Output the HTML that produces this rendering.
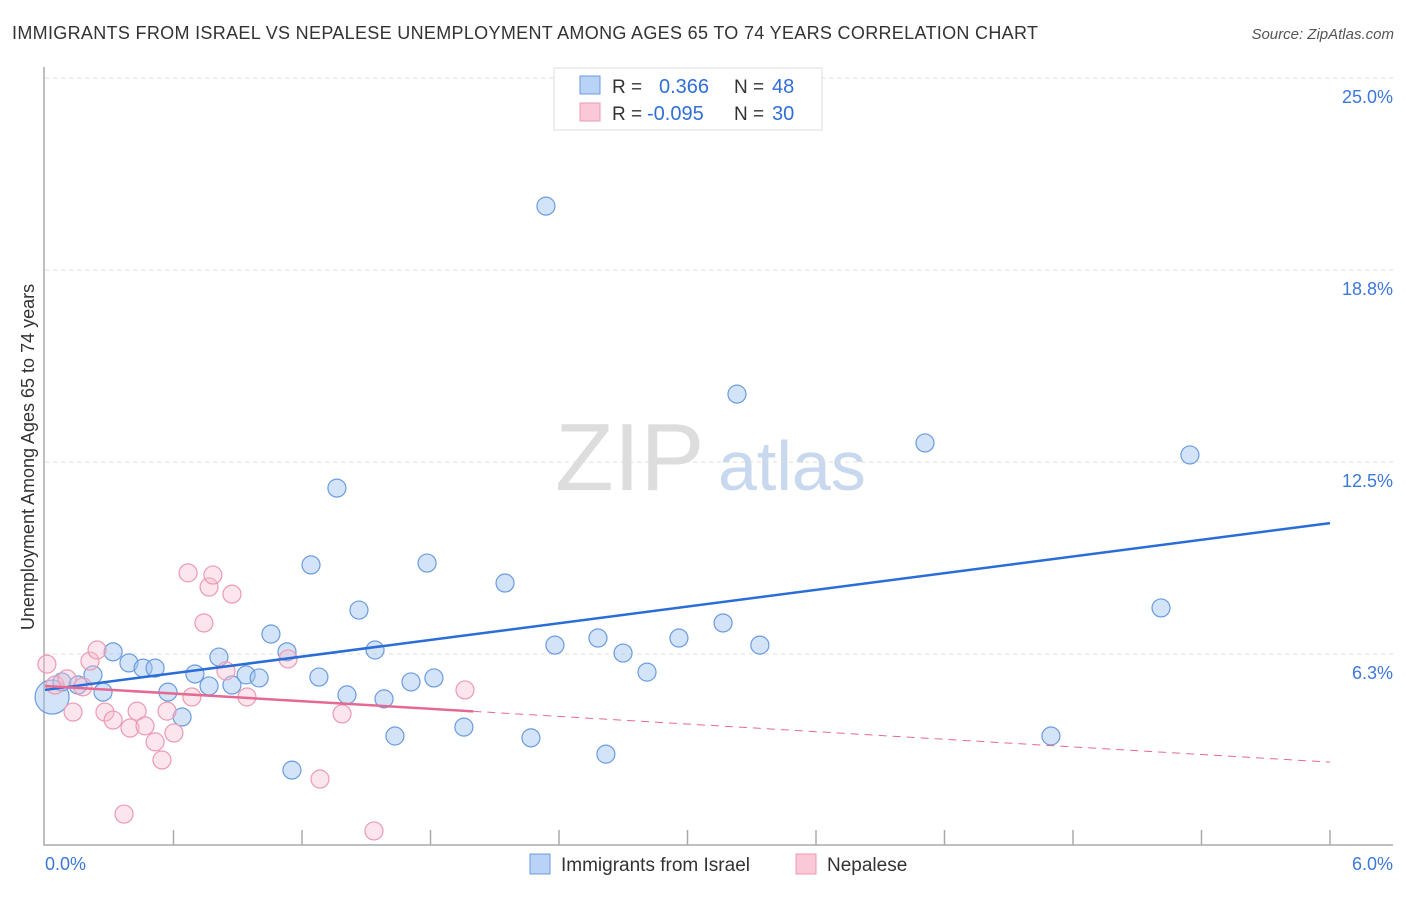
<!DOCTYPE html>
<html><head><meta charset="utf-8"><style>
body{margin:0;background:#fff;font-family:"Liberation Sans",sans-serif}
svg text{font-family:"Liberation Sans",sans-serif}
</style></head><body>
<svg width="1406" height="892" id="c">
<text x="12" y="39" font-size="18" fill="#333" textLength="1026">IMMIGRANTS FROM ISRAEL VS NEPALESE UNEMPLOYMENT AMONG AGES 65 TO 74 YEARS CORRELATION CHART</text>
<text x="1394" y="39" font-size="15" fill="#555" font-style="italic" text-anchor="end">Source: ZipAtlas.com</text>
<text x="555" y="490" font-size="96" fill="#ddd" font-family="Liberation Serif">ZIP</text>
<text x="718" y="490" font-size="70" fill="#c8d8ef">atlas</text>
<text transform="translate(34,457) rotate(-90)" font-size="18" fill="#333" text-anchor="middle">Unemployment Among Ages 65 to 74 years</text>
<g id="grid"></g><g id="axes"></g><g id="pts"></g><g id="lines"></g>
<g>
<rect x="554" y="68" width="268" height="62" fill="#fff" stroke="#ddd"/>
<rect x="580" y="76" width="20" height="18" fill="#b8d3f5" stroke="#6a9be0"/>
<rect x="580" y="103" width="20" height="18" fill="#fac8d6" stroke="#ec9ab2"/>
<text x="612" y="93" font-size="19" fill="#333">R = </text><text x="659" y="93" font-size="20" fill="#2f6fd6">0.366</text>
<text x="734" y="93" font-size="19" fill="#333">N = </text><text x="772" y="93" font-size="20" fill="#2f6fd6">48</text>
<text x="612" y="120" font-size="19" fill="#333">R = </text><text x="647" y="120" font-size="20" fill="#2f6fd6">-0.095</text>
<text x="734" y="120" font-size="19" fill="#333">N = </text><text x="772" y="120" font-size="20" fill="#2f6fd6">30</text>
</g>
<g>
<rect x="530" y="854" width="20" height="20" fill="#b8d3f5" stroke="#6a9be0"/>
<text x="561" y="871" font-size="19" fill="#333">Immigrants from Israel</text>
<rect x="796" y="854" width="20" height="20" fill="#fac8d6" stroke="#ec9ab2"/>
<text x="827" y="871" font-size="19" fill="#333">Nepalese</text>
</g>
</svg>
<script>
const yTicks=[6.3,12.5,18.8,25.0];
const yGrid=[6.25,12.5,18.75,25];
const xLabels=["0.0%","6.0%"];
const blueX=[0.033,0.079,0.154,0.224,0.271,0.318,0.392,0.458,0.514,0.574,0.640,0.700,0.766,0.812,0.873,0.939,1.0,1.055,1.13,1.153,1.242,1.279,1.363,1.41,1.466,1.541,1.583,1.634,1.709,1.784,1.816,1.956,2.148,2.269,2.339,2.381,2.582,2.619,2.699,2.811,2.96,3.166,3.231,3.338,4.109,4.697,5.211,5.346];
const blueY=[4.85,5.34,5.24,5.57,5.01,6.32,5.96,5.79,5.79,5.01,4.20,5.60,5.21,6.15,5.24,5.57,5.47,6.90,6.32,2.47,9.15,5.50,11.65,4.92,7.68,6.38,4.79,3.58,5.34,9.21,5.47,3.87,8.56,3.52,20.83,6.54,6.77,2.99,6.28,5.66,6.77,7.26,14.71,6.54,13.12,3.58,7.75,12.73];
const pinkX=[0.009,0.047,0.103,0.131,0.177,0.21,0.243,0.28,0.318,0.397,0.43,0.467,0.514,0.546,0.57,0.602,0.668,0.686,0.742,0.766,0.784,0.845,0.873,0.943,1.135,1.284,1.387,1.536,0.369,1.961];
const pinkY=[5.92,5.24,5.44,4.36,5.18,6.02,6.38,4.36,4.10,3.84,4.39,3.91,3.39,2.80,4.39,3.68,8.89,4.85,7.26,8.43,8.82,5.70,8.20,4.85,6.09,2.18,4.30,0.49,1.04,5.08];
const blueTrend=[5.08,10.51];
const pinkTrend=[5.21,2.73];
const pinkSolidEnd=2.0;
const X=v=>45+v/6*1285, Y=v=>846-v*30.72;
const NS="http://www.w3.org/2000/svg";
function mk(t,a,p){const e=document.createElementNS(NS,t);for(const k in a)e.setAttribute(k,a[k]);document.getElementById(p).appendChild(e);return e;}
yGrid.forEach((g,i)=>{const l=mk('line',{x1:45,x2:1393,y1:Y(g),y2:Y(g),stroke:'#ddd','stroke-dasharray':'4,4'},'grid');


const t=mk('text',{x:1393,y:Y(g)+25,'font-size':18,fill:'#3b78d8','text-anchor':'end'},'grid');t.textContent=yTicks[i].toFixed(1)+'%';

});
const ax=mk('path',{d:'M44,67V845H1393',fill:'none',stroke:'#aaa','stroke-width':1.5},'axes');


for(let i=1;i<=10;i++){const tk=mk('line',{x1:X(i*0.6),x2:X(i*0.6),y1:830,y2:845,stroke:'#aaa','stroke-width':1.5},'axes');

}
[[0,45,'start'],[6,1393,'end']].forEach((d,i)=>{const t=mk('text',{x:d[1],y:870,'font-size':18,fill:'#3b78d8','text-anchor':d[2]},'axes');t.textContent=xLabels[i];

});
blueX.forEach((x,i)=>{const c=mk('circle',{cx:X(x),cy:Y(blueY[i]),r:i==0?17:9,fill:'rgba(160,196,240,0.45)',stroke:'#6a9be0','stroke-width':1.2},'pts');

});
pinkX.forEach((x,i)=>{const c=mk('circle',{cx:X(x),cy:Y(pinkY[i]),r:9,fill:'rgba(248,190,208,0.4)',stroke:'#ec9ab2','stroke-width':1.2},'pts');

});
const bl=mk('line',{x1:X(0),y1:Y(blueTrend[0]),x2:X(6),y2:Y(blueTrend[1]),stroke:'#2a6dd6','stroke-width':2.5},'lines');


const pm=pinkTrend[0]+(pinkTrend[1]-pinkTrend[0])*pinkSolidEnd/6;
const pl=mk('line',{x1:X(0),y1:Y(pinkTrend[0]),x2:X(pinkSolidEnd),y2:Y(pm),stroke:'#e46a92','stroke-width':2.5},'lines');


const pd=mk('line',{x1:X(pinkSolidEnd),y1:Y(pm),x2:X(6),y2:Y(pinkTrend[1]),stroke:'#e46a92','stroke-width':1,'stroke-dasharray':'8,6'},'lines');


</script>
</body></html>
